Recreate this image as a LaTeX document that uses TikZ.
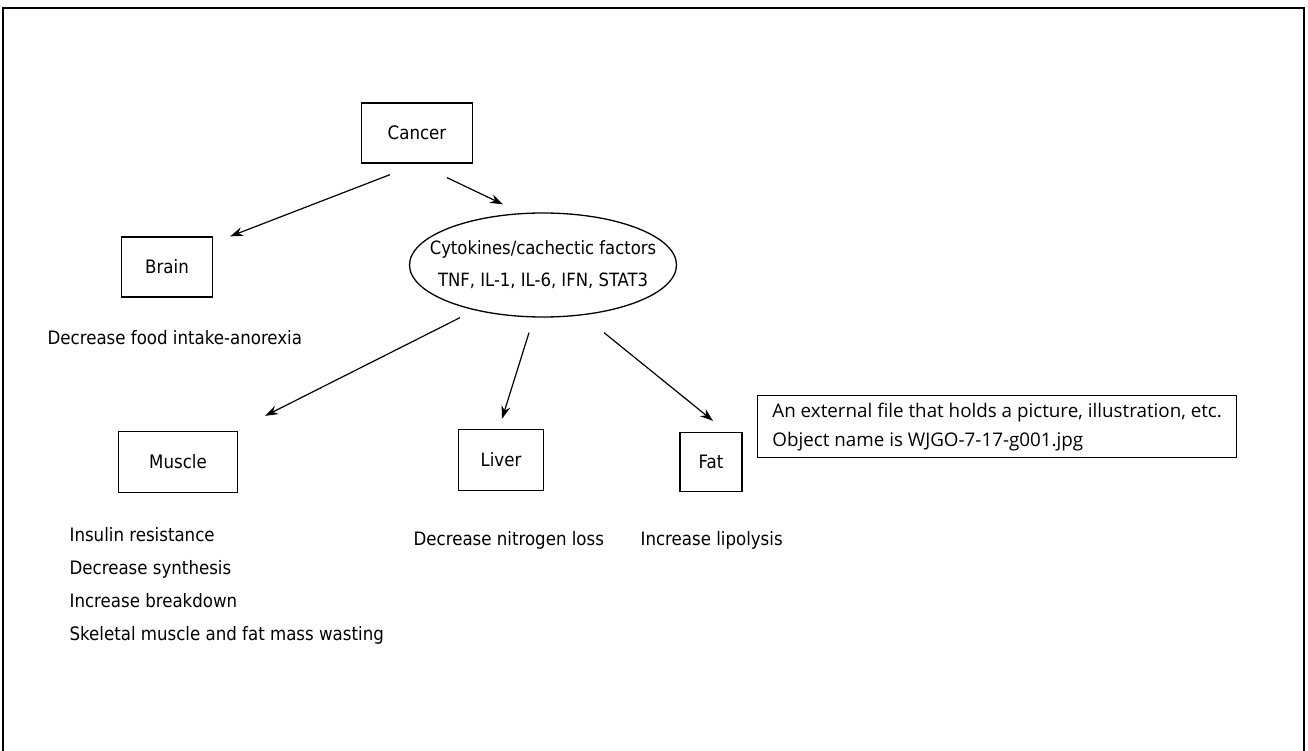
\documentclass[tikz,border=0pt]{standalone}
\usepackage{fontspec}
\setmainfont{DejaVu Sans Condensed}
\newfontfamily\notefont{Open Sans}
\usepackage{tikz}
\usetikzlibrary{arrows.meta,shapes.geometric,positioning}

\begin{document}
\begin{tikzpicture}[x=1pt,y=-1pt,
	organ/.style={draw, line width=1.3pt, inner sep=0pt, font=\fontsize{18.5}{20}\selectfont},
	effect/.style={fill=none, draw=none, inner sep=0pt, anchor=west, align=left, font=\fontsize{18.5}{33}\selectfont},
	every path/.style={line width=1.2pt},
	>={Stealth[length=13pt,width=9pt]}]
	\useasboundingbox (0,0) rectangle (1308,751);
	\draw [line width=1.6pt] (3,751) -- (3,8) -- (1304,8) -- (1304,751);
	\node [organ, minimum width=111pt, minimum height=60pt] (cancer) at (417,133) {Cancer};
	\node [organ, minimum width=91pt, minimum height=60pt] (brain) at (167,267) {Brain};
	\node [organ, ellipse, minimum width=267pt, minimum height=104pt] (cyto) at (543,265) {};
	\node [effect, anchor=center, align=center, font=\fontsize{18.3}{32}\selectfont] (cytotext) at (cyto.center) {Cytokines/cachectic factors\\TNF, IL-1, IL-6, IFN, STAT3};
	\node [organ, minimum width=119pt, minimum height=61pt] (muscle) at (178,462) {Muscle};
	\node [organ, minimum width=85pt, minimum height=61pt] (liver) at (501,460) {Liver};
	\node [organ, minimum width=62pt, minimum height=59pt] (fat) at (711,462) {Fat};
	\node [effect] (brainfx) at (47,338) {Decrease food intake-anorexia};
	\node [effect, anchor=north west] (musclefx) at (69,527) {Insulin resistance\\Decrease synthesis\\Increase breakdown\\Skeletal muscle and fat mass wasting};
	\node [effect] (liverfx) at (413,540) {Decrease nitrogen loss};
	\node [effect] (fatfx) at (640,540) {Increase lipolysis};
	\node [draw, line width=1.3pt, minimum width=479pt, minimum height=62pt, inner xsep=9pt, inner ysep=0pt, align=left, anchor=north west, font=\notefont\fontsize{18.8}{29}\selectfont] (note) at (757,395) {An external file that holds a picture, illustration, etc.\\Object name is WJGO-7-17-g001.jpg};
	\path [->] ([shift={(-27,11)}]cancer.south) edge ([shift={(17,0)}]brain.north east);
	\path [->] ([shift={(30,14)}]cancer.south) edge ([shift={(-40,-8)}]cyto.north);
	\path [->] ([shift={(-83,0)}]cyto.south) edge ([shift={(27,-15)}]muscle.north east);
	\path [->] ([shift={(-14,15)}]cyto.south) edge ([shift={(1,-10)}]liver.north);
	\path [->] ([shift={(61,15)}]cyto.south) edge ([shift={(2,-11)}]fat.north);
\end{tikzpicture}
\end{document}
